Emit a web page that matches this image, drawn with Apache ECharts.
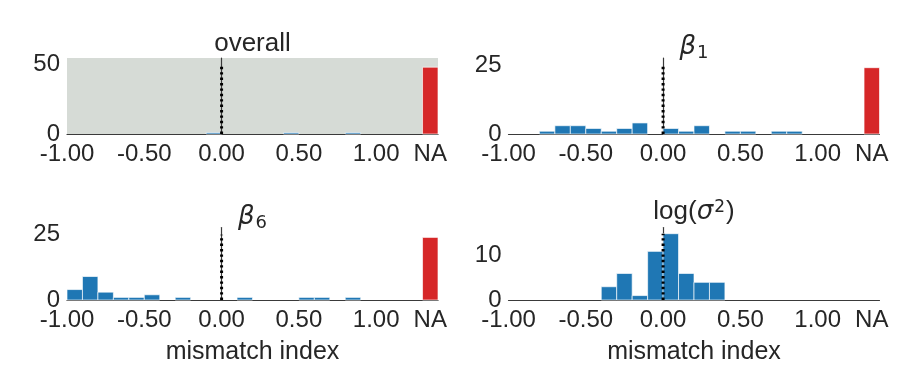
<!DOCTYPE html>
<html>
<head>
<meta charset="utf-8">
<script src="https://cdn.jsdelivr.net/npm/echarts@6/dist/echarts.min.js"></script>
<style>
  html, body { margin: 0; padding: 0; background: #fff; }
  #chart { width: 913px; height: 366px; }
</style>
</head>
<body>
<div id="chart"></div>
<script>
// histogram bins: left edges, each 0.1 wide
const binStarts = [-1.0, -0.9, -0.8, -0.7, -0.6, -0.5, -0.4, -0.3, -0.2, -0.1,
                   0.0, 0.1, 0.2, 0.3, 0.4, 0.5, 0.6, 0.7, 0.8, 0.9];
const binWidth = 0.1;

// counts per bin for each panel
const overallCounts = [0, 0, 0, 0, 0, 0, 0, 0, 0, 1, 0, 0, 0, 0, 1, 0, 0, 0, 1, 0];
const beta1Counts   = [0, 0, 1, 3, 3, 2, 1, 2, 4, 0, 2, 1, 3, 0, 1, 1, 0, 1, 1, 0];
const beta6Counts   = [4, 9, 3, 1, 1, 2, 0, 1, 0, 0, 0, 1, 0, 0, 0, 1, 1, 0, 1, 0];
const logSigCounts  = [0, 0, 0, 0, 0, 0, 3, 6, 1, 11, 15, 6, 4, 4, 0, 0, 0, 0, 0, 0];

// NA counts (drawn as the red bar)
const naCounts = [48, 24, 24, 0];
const naBin = [1.3, 1.4];

// x tick labels
const xTickValues = [-1, -0.5, 0, 0.5, 1];
const naTick = 1.35;

// y axis per panel
const yMax = [54.6, 27.5, 27.8, 16.4];
const yStep = [50, 25, 25, 10];

// height of dotted zero line per panel
const zeroLineTop = [50, 25, 25, 15];

const panelCounts = [overallCounts, beta1Counts, beta6Counts, logSigCounts];

const blue = '#1f77b4';
const red = '#d62728';
const font = '"Liberation Sans", Arial, sans-serif';
const mathFont = '"DejaVu Sans", sans-serif';

const grids = [
  { left: 67, top: 58, width: 371, height: 76 },
  { left: 508.5, top: 58, width: 371, height: 76 },
  { left: 67, top: 227.5, width: 371, height: 76 },
  { left: 508.5, top: 227.5, width: 371, height: 76 },
];
grids.forEach((g, i) => {
  g.containLabel = false;
  if (i === 0) {
    g.show = true;
    g.backgroundColor = '#d6dbd6';
    g.borderWidth = 0;
  }
});

function fmtX(v) {
  if (Math.abs(v - naTick) < 1e-6) return 'NA';
  for (const t of xTickValues) {
    if (Math.abs(v - t) < 1e-6) return t.toFixed(2);
  }
  return '';
}

const axisLine = { show: true, lineStyle: { color: '#3a3a3a', width: 1.2 } };

const xAxes = grids.map((g, i) => ({
  type: 'value',
  gridIndex: i,
  min: -1,
  max: 1.4,
  interval: 0.05,
  axisLine: axisLine,
  axisTick: { show: false },
  splitLine: { show: false },
  axisLabel: { formatter: fmtX, fontFamily: font, fontSize: 24, color: '#262626', margin: 8 },
  name: i >= 2 ? 'mismatch index' : '',
  nameLocation: 'middle',
  nameGap: 40,
  nameTextStyle: { fontFamily: font, fontSize: 25, color: '#262626' },
}));

const yAxes = grids.map((g, i) => ({
  type: 'value',
  gridIndex: i,
  min: 0,
  max: yMax[i],
  interval: yStep[i],
  axisLine: axisLine,
  axisTick: { show: false },
  splitLine: { show: false },
  axisLabel: { fontFamily: font, fontSize: 24, color: '#262626', margin: 7, showMaxLabel: false },
}));

function makeRender(color) {
  return function (params, api) {
    const h = api.value(2);
    if (!h) return null;
    const p0 = api.coord([api.value(0), h]);
    const p1 = api.coord([api.value(1), 0]);
    return {
      type: 'rect',
      shape: { x: p0[0], y: p0[1], width: p1[0] - p0[0], height: p1[1] - p0[1] },
      style: { fill: color, stroke: 'rgba(255,255,255,0.65)', lineWidth: 1 },
    };
  };
}

const series = [];
panelCounts.forEach((counts, i) => {
  series.push({
    type: 'custom',
    xAxisIndex: i,
    yAxisIndex: i,
    renderItem: makeRender(blue),
    data: counts.map((c, k) => [binStarts[k], binStarts[k] + binWidth, c]),
    silent: true,
  });
  series.push({
    type: 'custom',
    xAxisIndex: i,
    yAxisIndex: i,
    renderItem: makeRender(red),
    data: [[naBin[0], naBin[1], naCounts[i]]],
    silent: true,
  });
  series.push({
    type: 'line',
    xAxisIndex: i,
    yAxisIndex: i,
    data: [[0, 0], [0, zeroLineTop[i]]],
    showSymbol: false,
    symbol: 'none',
    clip: false,
    lineStyle: { color: '#000', width: 3, type: [2.4, 3] },
    z: 5,
    silent: true,
  });
});

const titleStyle = { fontFamily: font, fontSize: 26, fontWeight: 'normal', color: '#262626' };
const titles = [
  { text: 'overall', left: 252.5, top: 31 },
  { text: '{b|β}{s|1}', left: 694, top: 32 },
  { text: '{b|β}{s|6}', left: 252.5, top: 202 },
  { text: '{n|log(}{b|σ}{p|2}{n|)}', left: 694, top: 199 },
].map(t => ({
  text: t.text,
  left: t.left,
  top: t.top,
  textAlign: 'center',
  padding: 0,
  textStyle: Object.assign({}, titleStyle, {
    rich: {
      n: { fontFamily: font, fontSize: 26, fontWeight: 'normal', color: '#262626' },
      b: { fontFamily: mathFont, fontStyle: 'italic', fontWeight: 'normal', fontSize: 26, color: '#262626' },
      s: { fontFamily: mathFont, fontWeight: 'normal', fontSize: 18, color: '#262626', verticalAlign: 'bottom', padding: [12, 0, 0, 1] },
      p: { fontFamily: mathFont, fontWeight: 'normal', fontSize: 17, color: '#262626', verticalAlign: 'top', padding: [0, 1, 8, 1] },
    },
  }),
}));

const chart = echarts.init(document.getElementById('chart'), null, { renderer: 'canvas' });
chart.setOption({
  backgroundColor: '#ffffff',
  animation: false,
  title: titles,
  grid: grids,
  xAxis: xAxes,
  yAxis: yAxes,
  series: series,
});
</script>
</body>
</html>
